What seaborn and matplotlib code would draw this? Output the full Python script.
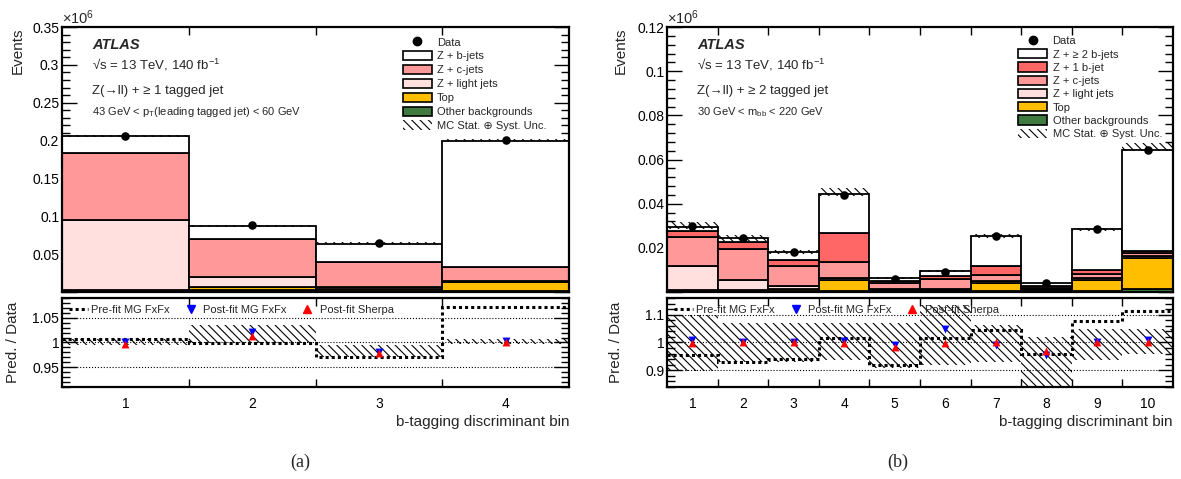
import numpy as np
import pandas as pd
import matplotlib
matplotlib.use('Agg')
import matplotlib.pyplot as plt
from matplotlib.patches import Patch
from matplotlib.lines import Line2D
from matplotlib.ticker import MultipleLocator, FuncFormatter
import seaborn as sns

# ============================================================
# Panel (a): Z + >= 1 tagged jet  (events in units of 1e6)
# ============================================================
bins_a = [1, 2, 3, 4]
data_a = [0.206, 0.088, 0.065, 0.201]
zb_a = [0.023, 0.017, 0.025, 0.167]
zc_a = [0.088, 0.050, 0.033, 0.019]
zl_a = [0.093, 0.014, 0.002, 0.001]
top_a = [0.001, 0.004, 0.003, 0.012]
oth_a = [0.001, 0.002, 0.001, 0.001]
unc_lo_a = [0.2045, 0.0860, 0.0630, 0.1990]
unc_hi_a = [0.2070, 0.0885, 0.0655, 0.2015]

prefit_a = [1.007, 0.998, 0.970, 1.072]
band_lo_a = [0.994, 0.999, 0.970, 0.997]
band_hi_a = [1.007, 1.035, 0.994, 1.008]
mg_a = [1.001, 1.021, 0.980, 1.002]
sherpa_a = [0.997, 1.013, 0.978, 1.000]

# ============================================================
# Panel (b): Z + >= 2 tagged jets
# ============================================================
bins_b = [1, 2, 3, 4, 5, 6, 7, 8, 9, 10]
data_b = [0.0297, 0.0245, 0.0183, 0.0440, 0.0060, 0.0092, 0.0254, 0.0042, 0.0284, 0.0645]
zbb_b = [0.0020, 0.0020, 0.0036, 0.0176, 0.0014, 0.0024, 0.0138, 0.0013, 0.0183, 0.0459]
z1b_b = [0.0023, 0.0030, 0.0027, 0.0135, 0.0008, 0.0012, 0.0038, 0.0008, 0.0021, 0.0010]
zc_b = [0.0135, 0.0140, 0.0093, 0.0069, 0.0028, 0.0045, 0.0028, 0.0008, 0.0018, 0.0012]
zl_b = [0.0106, 0.0045, 0.0014, 0.0010, 0.0004, 0.0005, 0.0007, 0.0004, 0.0008, 0.0008]
top_b = [0.0005, 0.0006, 0.0007, 0.0050, 0.0005, 0.0007, 0.0038, 0.0005, 0.0050, 0.0142]
oth_b = [0.0005, 0.0004, 0.0005, 0.0005, 0.0003, 0.0003, 0.0005, 0.0003, 0.0004, 0.0014]
unc_lo_b = [0.0285, 0.0232, 0.0172, 0.0434, 0.0058, 0.0092, 0.0246, 0.0039, 0.0278, 0.0637]
unc_hi_b = [0.0316, 0.0258, 0.0192, 0.0470, 0.0066, 0.0100, 0.0262, 0.0043, 0.0292, 0.0676]

prefit_b = [0.954, 0.930, 0.939, 1.015, 0.918, 1.015, 1.045, 0.960, 1.079, 1.115]
band_lo_b = [0.899, 0.930, 0.930, 0.936, 0.910, 0.918, 0.930, 0.845, 0.936, 0.960]
band_hi_b = [1.099, 1.069, 1.069, 1.070, 1.070, 1.136, 1.063, 1.020, 1.050, 1.050]
mg_b = [1.008, 1.000, 1.000, 1.005, 0.990, 1.050, 0.990, 0.955, 1.000, 1.008]
sherpa_b = [0.998, 1.002, 1.000, 0.998, 0.983, 0.998, 1.000, 0.970, 1.000, 1.000]

colors = {
    'Z + b-jets': '#ffffff',
    'Z + \u2265 2 b-jets': '#ffffff',
    'Z + 1 b-jet': '#ff6666',
    'Z + c-jets': '#ff9999',
    'Z + light jets': '#ffe0de',
    'Top': '#ffbf00',
    'Other backgrounds': '#3f7a40',
}

HATCH = '\\\\\\\\'

sns.set_style('ticks')
plt.rcParams['font.family'] = ['Liberation Sans', 'DejaVu Sans']
plt.rcParams['mathtext.fontset'] = 'custom'
plt.rcParams['mathtext.rm'] = 'Liberation Sans'
plt.rcParams['mathtext.it'] = 'Liberation Sans:italic'
plt.rcParams['mathtext.bf'] = 'Liberation Sans:bold'
plt.rcParams['hatch.linewidth'] = 0.8
plt.rcParams['hatch.color'] = 'black'


def style(ax, ymaj, ymin):
    for s in ax.spines.values():
        s.set_linewidth(1.6)
        s.set_color('black')
    ax.yaxis.set_major_locator(MultipleLocator(ymaj))
    ax.yaxis.set_minor_locator(MultipleLocator(ymin))
    ax.tick_params(which='both', direction='in', top=True, right=True,
                   labelsize=10, colors='black', width=1.0)
    ax.tick_params(axis='y', which='major', length=11, pad=2)
    ax.tick_params(axis='y', which='minor', length=5.5)


def draw(ax, axr, bins, layers, data, unc_lo, unc_hi, prefit, band_lo, band_hi,
         mg, sherpa, ymax, ymaj, ymin, rlim, rmaj, rmin, rgrid, lines, leg_x, leg_y,
         leg_sp, lab_x):
    edges = np.arange(0.5, len(bins) + 1.0, 1.0)
    names = list(layers.keys())
    rows = []
    for name in names:
        for b, v in zip(bins, layers[name]):
            rows.append({'bin': b, 'events': v, 'sample': name})
    df = pd.DataFrame(rows)

    # stacked MC (first hue level ends on top)
    sns.histplot(data=df, x='bin', weights='events', hue='sample', hue_order=names,
                 multiple='stack', discrete=True, element='bars', palette=colors,
                 edgecolor='black', linewidth=1.3, alpha=1, legend=False, ax=ax)
    ax.bar(bins, np.array(unc_hi) - np.array(unc_lo), bottom=unc_lo, width=1.0,
           facecolor='none', edgecolor='black', linewidth=0, hatch=HATCH, zorder=4)
    sns.scatterplot(x=bins, y=data, color='black', marker='o', s=38,
                    edgecolor='black', linewidth=0, zorder=6, legend=False, ax=ax)

    ax.set_xlim(edges[0], edges[-1])
    ax.set_ylim(0, ymax)
    style(ax, ymaj, ymin)
    ax.set_xticks(edges[1:-1])
    ax.set_xticklabels([])
    ax.tick_params(axis='x', which='major', length=6)
    ax.yaxis.set_major_formatter(FuncFormatter(lambda v, p: '' if v < 1e-9 else f'{v:g}'))
    ax.set_xlabel('')
    ax.set_ylabel('Events', fontsize=11, loc='top')
    ax.yaxis.set_label_coords(lab_x, 1.0)
    ax.text(0.0, 1.0, '$\\times$10$^{6}$', transform=ax.transAxes, ha='left',
            va='bottom', fontsize=10.5)

    ax.text(0.06, 0.932, 'ATLAS', transform=ax.transAxes, fontsize=10.5,
            fontweight='bold', fontstyle='italic', va='center')
    ax.text(0.06, 0.857, '\u221as = 13 TeV, 140 fb$^{-1}$', transform=ax.transAxes,
            fontsize=9.5, va='center')
    ax.text(0.06, 0.758, lines[0], transform=ax.transAxes, fontsize=9.5, va='center')
    ax.text(0.06, 0.679, lines[1], transform=ax.transAxes, fontsize=8, va='center')

    handles = [Line2D([], [], marker='o', color='black', linestyle='none', markersize=6)]
    for name in names:
        handles.append(Patch(facecolor=colors[name], edgecolor='black', linewidth=1.2))
    handles.append(Patch(facecolor='none', edgecolor='black', linewidth=0, hatch=HATCH))
    labels = ['Data'] + names + ['MC Stat. \u2295 Syst. Unc.']
    ax.legend(handles, labels, loc='upper left', bbox_to_anchor=(leg_x, leg_y),
              frameon=False, fontsize=8, handlelength=2.6, handleheight=0.9,
              handletextpad=0.5, labelspacing=leg_sp, borderaxespad=0, borderpad=0)

    # ratio panel
    for g in rgrid:
        axr.axhline(g, color='black', linestyle=':', linewidth=0.8, zorder=1)
    axr.bar(bins, np.array(band_hi) - np.array(band_lo), bottom=band_lo, width=1.0,
            facecolor='none', edgecolor='black', linewidth=0, hatch=HATCH, zorder=2)
    axr.stairs(prefit, edges, baseline=None, color='black', linewidth=2.2,
               linestyle=(0, (1.0, 1.0)), zorder=3)
    sns.scatterplot(x=bins, y=mg, color='#0000ff', marker='v', s=32, linewidth=0,
                    zorder=5, legend=False, ax=axr)
    sns.scatterplot(x=bins, y=sherpa, color='#ff0000', marker='^', s=32, linewidth=0,
                    zorder=6, legend=False, ax=axr)
    axr.set_xlim(edges[0], edges[-1])
    axr.set_ylim(*rlim)
    style(axr, rmaj, rmin)
    axr.yaxis.set_major_formatter(FuncFormatter(lambda v, p: f'{v:g}'))
    axr.set_xticks(bins)
    axr.set_xticklabels([str(b) for b in bins])
    axr.tick_params(axis='x', which='major', length=0, pad=7)
    axr.set_xticks(edges[1:-1], minor=True)
    axr.tick_params(axis='x', which='minor', length=6)
    axr.set_xlabel('b-tagging discriminant bin', fontsize=11, loc='right', labelpad=3)
    axr.set_ylabel('Pred. / Data', fontsize=11)
    axr.yaxis.set_label_coords(lab_x - 0.01, 0.5)

    rh = [Line2D([], [], color='black', linestyle=(0, (1.0, 1.0)), linewidth=2.2),
          Line2D([], [], color='#0000ff', marker='v', linestyle='none', markersize=6),
          Line2D([], [], color='#ff0000', marker='^', linestyle='none', markersize=6)]
    axr.legend(rh, ['Pre-fit MG FxFx', 'Post-fit MG FxFx', 'Post-fit Sherpa'],
               loc='center left', bbox_to_anchor=(0.014, 0.87), ncol=3, frameon=False,
               fontsize=8, handlelength=1.7, handletextpad=0.3, columnspacing=1.0,
               borderaxespad=0, borderpad=0)


fig = plt.figure(figsize=(11.81, 4.79), dpi=100)
ax_a = fig.add_axes([0.0525, 0.3904, 0.4293, 0.5532])
axr_a = fig.add_axes([0.0525, 0.1921, 0.4293, 0.1858])
ax_b = fig.add_axes([0.5648, 0.3904, 0.4284, 0.5532])
axr_b = fig.add_axes([0.5648, 0.1921, 0.4284, 0.1858])

layers_a = {'Z + b-jets': zb_a, 'Z + c-jets': zc_a, 'Z + light jets': zl_a,
            'Top': top_a, 'Other backgrounds': oth_a}
draw(ax_a, axr_a, bins_a, layers_a, data_a, unc_lo_a, unc_hi_a, prefit_a,
     band_lo_a, band_hi_a, mg_a, sherpa_a, 0.35, 0.05, 0.01,
     (0.91, 1.09), 0.05, 0.01, [0.95, 1.0, 1.05],
     ['Z(\u2192ll) + \u2265 1 tagged jet',
      '43 GeV < p$_{\\mathrm{T}}$(leading tagged jet) < 60 GeV'],
     0.672, 0.962, 0.31, -0.073)

layers_b = {'Z + \u2265 2 b-jets': zbb_b, 'Z + 1 b-jet': z1b_b, 'Z + c-jets': zc_b,
            'Z + light jets': zl_b, 'Top': top_b, 'Other backgrounds': oth_b}
draw(ax_b, axr_b, bins_b, layers_b, data_b, unc_lo_b, unc_hi_b, prefit_b,
     band_lo_b, band_hi_b, mg_b, sherpa_b, 0.12, 0.02, 0.004,
     (0.84, 1.16), 0.1, 0.02, [0.9, 1.0, 1.1],
     ['Z(\u2192ll) + \u2265 2 tagged jet',
      '30 GeV < m$_{\\mathrm{bb}}$ < 220 GeV'],
     0.694, 0.966, 0.25, -0.077)

fig.text(300 / 1181, 1 - 462 / 479, '(a)', ha='center', va='center',
         family='Liberation Serif', fontsize=13)
fig.text(898 / 1181, 1 - 462 / 479, '(b)', ha='center', va='center',
         family='Liberation Serif', fontsize=13)

fig.savefig('out.png', dpi=100, facecolor='white')
